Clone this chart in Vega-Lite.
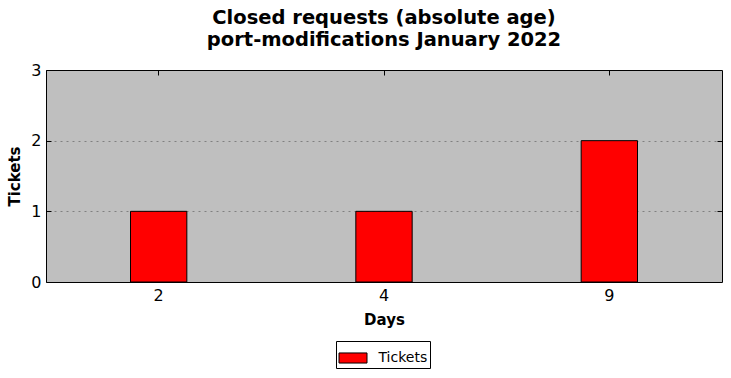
{
  "$schema": "https://vega.github.io/schema/vega-lite/v6.json",
  "width": 676,
  "height": 212,
  "autosize": {"type": "none"},
  "padding": {"left": 46, "top": 70, "right": 9, "bottom": 96},
  "background": "white",
  "title": {
    "text": ["Closed requests (absolute age)", "port-modifications January 2022"],
    "font": "DejaVu Sans",
    "fontSize": 19.5,
    "fontWeight": "bold",
    "color": "black",
    "lineHeight": 22,
    "anchor": "middle",
    "offset": 12
  },
  "data": {
    "values": [
      {"Days": "2", "Tickets": 1, "series": "Tickets"},
      {"Days": "4", "Tickets": 1, "series": "Tickets"},
      {"Days": "9", "Tickets": 2, "series": "Tickets"}
    ]
  },
  "config": {
    "view": {"stroke": null, "fill": "#bfbfbf"},
    "axis": {
      "labelFont": "DejaVu Sans",
      "labelFontSize": 16,
      "labelColor": "black",
      "titleFont": "DejaVu Sans",
      "titleFontSize": 15,
      "titleFontWeight": "bold",
      "titleColor": "black",
      "domain": true,
      "domainColor": "black",
      "domainWidth": 1,
      "tickColor": "black",
      "tickSize": -5,
      "tickWidth": 1,
      "zindex": 1
    }
  },
  "layer": [
    {
      "mark": {"type": "bar", "fill": "red", "stroke": "black", "strokeWidth": 1},
      "encoding": {
        "x": {
          "field": "Days",
          "type": "ordinal",
          "scale": {"paddingInner": 0.75, "paddingOuter": 0.375},
          "axis": {"labelAngle": 0, "labelPadding": 10, "titlePadding": 9, "title": "Days"}
        },
        "y": {
          "field": "Tickets",
          "type": "quantitative",
          "scale": {"domain": [0, 3], "nice": false},
          "axis": {
            "values": [0, 1, 2, 3],
            "format": "d",
            "labelPadding": 10,
            "titlePadding": 8,
            "title": "Tickets",
            "grid": false
          }
        },
        "color": {
          "field": "series",
          "type": "nominal",
          "scale": {"range": ["red"]},
          "legend": {
            "title": null,
            "orient": "none",
            "legendX": 290,
            "legendY": 271,
            "strokeColor": "black",
            "fillColor": "white",
            "padding": 2.5,
            "symbolType": "M-1,-0.36H1V0.36H-1Z",
            "symbolSize": 784,
            "symbolStrokeColor": "black",
            "symbolStrokeWidth": 1,
            "labelFont": "DejaVu Sans",
            "labelFontSize": 14,
            "labelColor": "black",
            "labelOffset": 11
          }
        }
      }
    },
    {
      "mark": {"type": "rule", "opacity": 0},
      "encoding": {
        "x": {
          "field": "Days",
          "type": "ordinal",
          "axis": {"orient": "top", "labels": false, "title": null}
        },
        "y": {
          "field": "Tickets",
          "type": "quantitative",
          "axis": {
            "orient": "right",
            "labels": false,
            "title": null,
            "values": [1, 2],
            "grid": true,
            "gridColor": "#808080",
            "gridDash": [2, 4],
            "gridWidth": 1
          }
        }
      }
    }
  ],
  "resolve": {"axis": {"x": "independent", "y": "independent"}}
}
